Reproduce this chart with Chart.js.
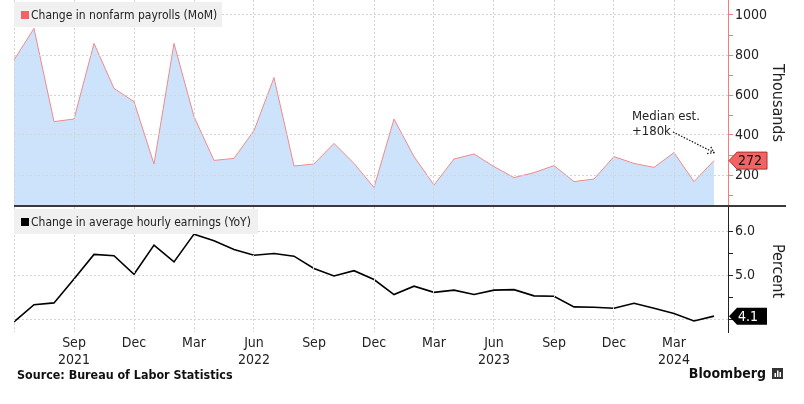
<!DOCTYPE html>
<html>
<head>
<meta charset="utf-8">
<script src="https://cdn.jsdelivr.net/npm/chart.js@4"></script>
<style>
  html, body { margin: 0; padding: 0; background: #fff; }
  #wrap { position: relative; width: 804px; height: 404px; overflow: hidden; }
  canvas { position: absolute; left: 0; }
  #top { top: 0; }
  #bottom { top: 207px; }
</style>
</head>
<body>
<div id="wrap">
  <canvas id="top" width="804" height="207"></canvas>
  <canvas id="bottom" width="804" height="197"></canvas>
</div>
<script>
const months = ['Jun 2021','Jul 2021','Aug 2021','Sep 2021','Oct 2021','Nov 2021','Dec 2021',
  'Jan 2022','Feb 2022','Mar 2022','Apr 2022','May 2022','Jun 2022','Jul 2022','Aug 2022','Sep 2022','Oct 2022','Nov 2022','Dec 2022',
  'Jan 2023','Feb 2023','Mar 2023','Apr 2023','May 2023','Jun 2023','Jul 2023','Aug 2023','Sep 2023','Oct 2023','Nov 2023','Dec 2023',
  'Jan 2024','Feb 2024','Mar 2024','Apr 2024','May 2024'];
const payrolls = [775,933,467,480,858,633,567,255,858,492,273,283,422,687,245,255,358,258,138,
  480,292,150,280,305,242,187,212,247,167,180,292,258,238,312,167,272];
const earnings = [3.94,4.33,4.37,4.91,5.47,5.44,5.02,5.68,5.30,5.93,5.78,5.58,5.45,5.49,5.43,5.15,4.98,5.10,4.90,
  4.56,4.75,4.61,4.66,4.56,4.66,4.67,4.53,4.52,4.28,4.27,4.25,4.36,4.25,4.13,3.96,4.07];
const tickIndex = [3,6,9,12,15,18,21,24,27,30,33];
const tickLabels = [['Sep','2021'],'Dec','Mar',['Jun','2022'],'Sep','Dec','Mar',['Jun','2023'],'Sep','Dec',['Mar','2024']];
const payrollTicks = [100,200,300,400,500,600,700,800,900,1000];
const earningsTicks = [4.0,4.5,5.0,5.5,6.0];

const FONT = "'DejaVu Sans Condensed', 'DejaVu Sans', sans-serif";
Chart.defaults.font.family = FONT;
Chart.defaults.color = '#222';

const gridGray = '#d4d4d4';

function noPad(s) {
  s.paddingTop = 0; s.paddingBottom = 0; s.paddingLeft = 0; s.paddingRight = 0;
}

function xScale(showLabels) {
  return {
    type: 'linear', min: 0, max: 35.7,
    afterBuildTicks: s => { s.ticks = [0, ...tickIndex].map(v => ({ value: v })); },
    afterFit: s => { s.height = showLabels ? 72 : 0; noPad(s); },
    grid: { color: gridGray, drawTicks: false, z: 1 },
    border: { display: false, dash: [2, 2], z: 2 },
    ticks: {
      display: showLabels, autoSkip: false, maxRotation: 0, padding: 3,
      font: { size: 14 }, color: '#222',
      callback: v => { const i = tickIndex.indexOf(v); return i < 0 ? '' : tickLabels[i]; }
    }
  };
}

function labelBox(ctx, cy, fill, txt, txtColor) {
  ctx.save();
  ctx.fillStyle = fill;
  ctx.strokeStyle = fill === '#000' ? '#000' : '#b03030';
  ctx.lineWidth = 1;
  ctx.beginPath();
  ctx.moveTo(729, cy);
  ctx.lineTo(737, cy - 8.5);
  ctx.lineTo(767, cy - 8.5);
  ctx.lineTo(767, cy + 8.5);
  ctx.lineTo(737, cy + 8.5);
  ctx.closePath();
  ctx.fill();
  if (fill !== '#000') ctx.stroke();
  ctx.fillStyle = txtColor;
  ctx.font = '14px ' + FONT;
  ctx.textBaseline = 'middle';
  ctx.textAlign = 'left';
  ctx.fillText(txt, 738, cy + 1);
  ctx.restore();
}

function legend(ctx, y, w, color, txt) {
  ctx.save();
  ctx.fillStyle = '#f0f0f0';
  ctx.fillRect(14, y, w, 25);
  ctx.fillStyle = color;
  ctx.fillRect(21, y + 9, 8, 8);
  ctx.fillStyle = '#222';
  ctx.font = '12px ' + FONT;
  ctx.textBaseline = 'middle';
  ctx.fillText(txt, 31, y + 13.5);
  ctx.restore();
}

function sideTitle(ctx, txt, cx, cy) {
  ctx.save();
  ctx.translate(cx, cy);
  ctx.rotate(Math.PI / 2);
  ctx.font = '16px ' + FONT;
  ctx.fillStyle = '#222';
  ctx.textAlign = 'center';
  ctx.textBaseline = 'middle';
  ctx.fillText(txt, 0, 0);
  ctx.restore();
}

const topExtras = {
  id: 'topExtras',
  afterDraw(chart) {
    const ctx = chart.ctx;
    const y = chart.scales.y, x = chart.scales.x;
    legend(ctx, 2, 208, '#f26363', 'Change in nonfarm payrolls (MoM)');
    // separator
    ctx.save();
    ctx.fillStyle = '#3a3a3a';
    ctx.fillRect(14, 205, 772, 2);
    ctx.restore();
    const last = payrolls[payrolls.length - 1];
    labelBox(ctx, y.getPixelForValue(last), '#f26363', String(last), '#111');
    sideTitle(ctx, 'Thousands', 777, 103);
    // annotation
    ctx.save();
    ctx.font = '13px ' + FONT;
    ctx.fillStyle = '#222';
    ctx.textBaseline = 'alphabetic';
    ctx.fillText('Median est.', 632, 120);
    ctx.fillText('+180k', 632, 135);
    const tx = x.getPixelForValue(payrolls.length - 1), ty = y.getPixelForValue(last) - 8;
    const sx = 673, sy = 132;
    ctx.strokeStyle = '#222';
    ctx.lineWidth = 1.3;
    ctx.setLineDash([1.5, 1.5]);
    ctx.beginPath(); ctx.moveTo(sx, sy); ctx.lineTo(tx, ty); ctx.stroke();
    const a = Math.atan2(ty - sy, tx - sx);
    ctx.beginPath();
    ctx.moveTo(tx - 7 * Math.cos(a - 0.6), ty - 7 * Math.sin(a - 0.6));
    ctx.lineTo(tx, ty);
    ctx.lineTo(tx - 7 * Math.cos(a + 0.6), ty - 7 * Math.sin(a + 0.6));
    ctx.stroke();
    ctx.restore();
  }
};

const bottomExtras = {
  id: 'bottomExtras',
  afterDraw(chart) {
    const ctx = chart.ctx;
    const y = chart.scales.y;
    legend(ctx, 2, 244, '#000', 'Change in average hourly earnings (YoY)');
    const last = earnings[earnings.length - 1];
    labelBox(ctx, y.getPixelForValue(last), '#000', last.toFixed(1), '#fff');
    sideTitle(ctx, 'Percent', 777, 64);
    ctx.save();
    ctx.fillStyle = '#111';
    ctx.font = 'bold 12.4px ' + FONT;
    ctx.textBaseline = 'middle';
    ctx.fillText('Source: Bureau of Labor Statistics', 17, 169);
    ctx.font = 'bold 14px ' + FONT;
    ctx.textAlign = 'right';
    ctx.fillText('Bloomberg', 766, 167);
    // logo
    ctx.fillStyle = '#333';
    ctx.fillRect(772, 161, 11, 11);
    ctx.fillStyle = '#fff';
    ctx.fillRect(774.5, 166, 1.5, 4);
    ctx.fillRect(777, 163.5, 1.5, 6.5);
    ctx.fillRect(779.5, 165, 1.5, 5);
    ctx.restore();
  }
};

new Chart(document.getElementById('top').getContext('2d'), {
  type: 'line',
  data: {
    datasets: [{
      label: 'Change in nonfarm payrolls (MoM)',
      data: payrolls.map((v, i) => ({ x: i, y: v })),
      borderColor: '#f08a8a',
      backgroundColor: '#cce3fb',
      borderWidth: 1,
      fill: 'start',
      pointRadius: 0,
      tension: 0
    }]
  },
  options: {
    responsive: false, animation: false,
    layout: { padding: { left: 14, right: 0, top: 0, bottom: 2 } },
    plugins: { legend: { display: false }, tooltip: { enabled: false } },
    scales: {
      x: xScale(false),
      y: {
        position: 'right', min: 50, max: 1075,
        afterBuildTicks: s => { s.ticks = payrollTicks.map(v => ({ value: v })); },
        afterFit: s => { s.width = 76; noPad(s); },
        grid: {
          z: 1,
          color: c => (c.tick && c.tick.value % 200 === 0) ? gridGray : 'rgba(0,0,0,0)',
          tickColor: '#f47c7c', tickLength: 5
        },
        border: { color: '#f47c7c', dash: [2, 2], z: 2 },
        ticks: {
          padding: 2, font: { size: 14 }, color: '#222',
          callback: v => v % 200 === 0 ? String(v) : ''
        }
      }
    }
  },
  plugins: [topExtras]
});

new Chart(document.getElementById('bottom').getContext('2d'), {
  type: 'line',
  data: {
    datasets: [{
      label: 'Change in average hourly earnings (YoY)',
      data: earnings.map((v, i) => ({ x: i, y: v })),
      borderColor: '#000',
      borderWidth: 1.6,
      fill: false,
      pointRadius: 0,
      tension: 0
    }]
  },
  options: {
    responsive: false, animation: false,
    layout: { padding: { left: 14, right: 0, top: 0, bottom: 0 } },
    plugins: { legend: { display: false }, tooltip: { enabled: false } },
    scales: {
      x: xScale(true),
      y: {
        position: 'right', min: 3.71, max: 6.545,
        afterBuildTicks: s => { s.ticks = earningsTicks.map(v => ({ value: v })); },
        afterFit: s => { s.width = 76; noPad(s); },
        grid: {
          color: c => (c.tick && Number.isInteger(c.tick.value)) ? gridGray : 'rgba(0,0,0,0)',
          tickColor: '#222', tickLength: 5
        },
        border: { color: '#222', dash: [2, 2], z: 2 },
        ticks: {
          padding: 2, font: { size: 14 }, color: '#222',
          callback: v => Number.isInteger(v) ? v.toFixed(1) : ''
        }
      }
    }
  },
  plugins: [bottomExtras]
});
</script>
</body>
</html>
